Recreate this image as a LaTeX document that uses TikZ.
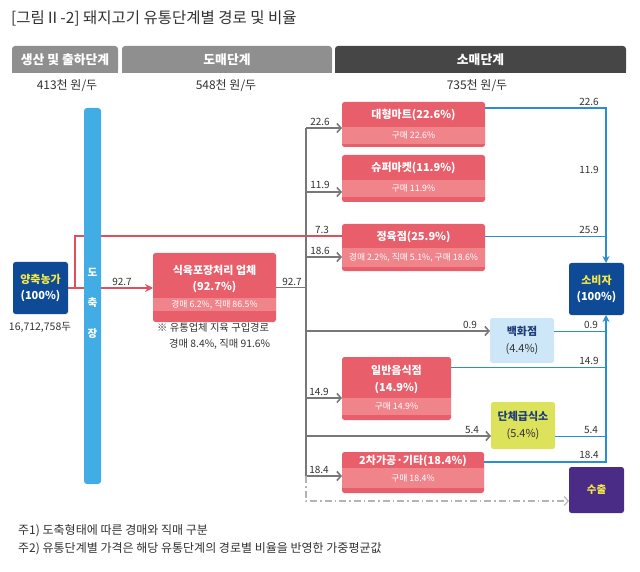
\documentclass[tikz,border=0pt]{standalone}
\usepackage{fontspec}
\setmainfont{Noto Sans CJK KR}
\usetikzlibrary{arrows.meta}
\definecolor{rmain}{RGB}{232,94,106}
\definecolor{rband}{RGB}{239,132,139}
\definecolor{hgray}{RGB}{143,143,143}
\definecolor{hdark}{RGB}{70,70,70}
\definecolor{dblue}{RGB}{14,74,150}
\definecolor{barblue}{RGB}{65,173,228}
\definecolor{lblue}{RGB}{42,143,208}
\definecolor{gline}{RGB}{120,120,120}
\definecolor{rline}{RGB}{224,80,92}
\definecolor{ytext}{RGB}{245,233,74}
\definecolor{paleblue}{RGB}{205,231,248}
\definecolor{ygreen}{RGB}{220,226,90}
\definecolor{navytext}{RGB}{30,60,120}
\definecolor{purp}{RGB}{74,44,134}
\definecolor{txt}{RGB}{50,50,50}
\definecolor{dashg}{RGB}{180,180,180}
\tikzset{
  box/.style={inner sep=0pt, outer sep=0pt, anchor=north west, rounded corners=2.5pt},
  redbox/.style={box, fill=rmain},
  band/.style={inner sep=0pt, outer sep=0pt, anchor=north west, fill=rband, text=white, font=\fontsize{8.8}{9}\selectfont},
  ttl/.style={text=white, font=\bfseries\fontsize{11}{16.5}\selectfont, align=center, inner sep=0pt},
  hdr/.style={inner sep=0pt, outer sep=0pt, anchor=north west, rounded corners=3pt, text=white, minimum height=27pt},
  hdrtxt/.style={text=white, font=\bfseries\fontsize{12.8}{14}\selectfont, inner sep=0pt},
  num/.style={font=\fontsize{10}{11}\selectfont, text=txt, inner sep=0pt},
  price/.style={font=\fontsize{12}{13}\selectfont, text=txt, inner sep=0pt},
  gl/.style={draw=gline, line width=1.6pt},
  garrow/.style={gl, -{Straight Barb[length=4pt,width=9pt,line width=1.6pt]}},
  rl/.style={draw=rline, line width=1.6pt},
  rarrow/.style={rl, -{Stealth[length=8pt,width=8pt]}},
  bthin/.style={draw=lblue, line width=0.9pt},
  bthick/.style={draw=lblue, line width=1.8pt},
  barrow/.style={bthick, -{Stealth[length=7pt,width=7pt]}},
  dashl/.style={draw=dashg, line width=1.1pt, dash pattern=on 7pt off 3pt on 1.5pt off 3pt, -{Straight Barb[length=4pt,width=9pt]}},
  foot/.style={anchor=west, inner sep=0pt, text=txt, font=\fontsize{12}{13}\selectfont},
  slab/.style={font=\bfseries\fontsize{11}{16.5}\selectfont, align=center, inner sep=0pt},
}
\begin{document}
\begin{tikzpicture}[x=1pt,y=-1pt]
\useasboundingbox (0,0) rectangle (640,572);
% title
\node[anchor=west, inner sep=0pt, text=txt, font=\fontsize{15.5}{17}\selectfont] (title) at (11,18) {[그림Ⅱ-2] 돼지고기 유통단계별 경로 및 비율};
% headers
\node[hdr, fill=hgray, minimum width=106pt] (h1) at (12,46) {};
\fill[hgray] (h1.west) rectangle (h1.south east);
\node[hdrtxt] at (h1.center) {생산 및 출하단계};
\node[hdr, fill=hgray, minimum width=210pt] (h2) at (122,46) {};
\fill[hgray] (h2.west) rectangle (h2.south east);
\node[hdrtxt] at (h2.center) {도매단계};
\node[hdr, fill=hdark, minimum width=291pt] (h3) at (335,46) {};
\fill[hdark] (h3.west) rectangle (h3.south east);
\node[hdrtxt] at (h3.center) {소매단계};
% prices
\node[price] (p1) at (67,86) {413천 원/두};
\node[price] (p2) at (226,86) {548천 원/두};
\node[price] (p3) at (477,86) {735천 원/두};

% farm
\node[box, fill=dblue, minimum width=55pt, minimum height=52pt] (farm) at (13,262) {};
\node[slab] at (farm.center) {\textcolor{ytext}{양축농가}\\\textcolor{white}{(100\%)}};
\node[font=\fontsize{10.5}{12}\selectfont, text=txt, inner sep=0pt] (cnt) at (40,327) {16,712,758두};

% packing plant
\node[redbox, minimum width=123pt, minimum height=69pt] (pack) at (153,253) {};
\node[band, minimum width=123pt, minimum height=13pt] (packb) at (153,298) {경매 6.2\%, 직매 86.5\%};
\node[ttl] at (214.5,279) {식육포장처리 업체\\(92.7\%)};
\node[font=\fontsize{10.3}{16}\selectfont, text=txt, align=left, inner sep=0pt, anchor=north west] (note) at (157,323) {※ 유통업체 지육 구입경로\\\hspace*{12pt}경매 8.4\%, 직매 91.6\%};

% retail boxes
\node[redbox, minimum width=143pt, minimum height=45pt] (mart) at (342,102) {};
\node[band, minimum width=143pt, minimum height=17pt] (martb) at (342,127) {구매 22.6\%};
\node[ttl] at (413.5,115) {대형마트(22.6\%)};

\node[redbox, minimum width=143pt, minimum height=47pt] (super) at (342,155) {};
\node[band, minimum width=143pt, minimum height=17pt] (superb) at (342,180) {구매 11.9\%};
\node[ttl] at (413.5,168) {슈퍼마켓(11.9\%)};

\node[redbox, minimum width=143pt, minimum height=47pt] (butch) at (342,224) {};
\node[band, minimum width=143pt, minimum height=19pt] (butchb) at (342,248) {경매 2.2\%, 직매 5.1\%, 구매 18.6\%};
\node[ttl] at (413.5,236.5) {정육점(25.9\%)};

\node[redbox, minimum width=109pt, minimum height=63pt] (rest) at (342,357) {};
\node[band, minimum width=109pt, minimum height=17pt] (restb) at (342,398) {구매 14.9\%};
\node[ttl] at (396.5,379.5) {일반음식점\\(14.9\%)};

\node[redbox, minimum width=142pt, minimum height=41pt] (proc2) at (342,452) {};
\node[band, minimum width=142pt, minimum height=20pt] (proc2b) at (342,468) {구매 18.4\%};
\node[ttl] at (413,460.5) {2차가공·기타(18.4\%)};

\node[box, fill=paleblue, minimum width=64pt, minimum height=45pt] (dept) at (490,318) {};
\node[slab] at (dept.center) {\textcolor{navytext}{백화점}\\\textcolor{txt}{\mdseries(4.4\%)}};

\node[box, fill=ygreen, minimum width=64pt, minimum height=47pt] (group) at (491,402) {};
\node[slab] at (group.center) {\textcolor{navytext}{단체급식소}\\\textcolor{txt}{\mdseries(5.4\%)}};

\node[box, fill=dblue, minimum width=55pt, minimum height=52pt] (cons) at (569,263) {};
\node[slab] at (cons.center) {\textcolor{ytext}{소비자}\\\textcolor{white}{(100\%)}};

\node[box, fill=purp, minimum width=55pt, minimum height=46pt] (exp) at (569,467) {};
\node[font=\bfseries\fontsize{10.5}{12}\selectfont, text=ytext, inner sep=0pt] at (exp.center) {수출};

% coordinates
\coordinate (vtop) at (306,128);
\coordinate (vbot) at (306,476);
\coordinate (bx) at (606,0);

% red connectors
\draw[rl] (farm.east) -- ++(7,0) |- (butch.west |- 0,236) coordinate (r73);
\draw[rarrow] (farm.east) -- (farm.east -| pack.west);
\node[num] at (122,282) {92.7};
\node[num] at (322,230) {7.3};

% slaughterhouse bar (over red lines)
\node[box, fill=barblue, minimum width=17pt, minimum height=376pt, rounded corners=3pt] (bar) at (84,108) {};
\node[text=white, font=\bfseries\fontsize{10.5}{12}\selectfont, inner sep=0pt] at (92.5,272) {도};
\node[text=white, font=\bfseries\fontsize{10.5}{12}\selectfont, inner sep=0pt] at (92.5,303) {축};
\node[text=white, font=\bfseries\fontsize{10.5}{12}\selectfont, inner sep=0pt] at (92.5,334) {장};

% gray connectors
\draw[gl] (pack.east) -- (pack.east -| vtop);
\node[num] at (292,282) {92.7};
\draw[gl] (vtop) -- (vbot);
\draw[garrow] (vtop) -- (vtop -| mart.west);
\draw[garrow] (306,192) -- (super.west |- 0,192);
\draw[garrow] (306,257) -- (butch.west |- 0,257);
\draw[garrow] (306,331) -- (dept.west |- 0,331);
\draw[garrow] (306,398) -- (rest.west |- 0,398);
\draw[garrow] (306,436) -- (group.west |- 0,436);
\draw[garrow] (vbot) -- (vbot -| proc2.west);
\draw[dashl] (vbot) -- (306,501) -- (exp.west |- 0,501);
\node[num] at (320,122) {22.6};
\node[num] at (320,185) {11.9};
\node[num] at (320,251) {18.6};
\node[num] at (470,325) {0.9};
\node[num] at (319,392) {14.9};
\node[num] at (472,430) {5.4};
\node[num] at (319,470) {18.4};

% blue connectors
\draw[barrow] (mart.east |- 0,108) -| (cons.north -| bx);
\draw[bthin] (butch.east |- 0,236) -- (bx |- 0,236);
\draw[bthin] (dept.east |- 0,331) -- (bx |- 0,331);
\draw[bthin] (rest.east |- 0,367) -- (bx |- 0,367);
\draw[bthin] (group.east |- 0,436) -- (bx |- 0,436);
\draw[barrow] (proc2.east |- 0,462) -| (cons.south -| bx);
\node[num] at (589,102) {22.6};
\node[num] at (589,170) {11.9};
\node[num] at (589,230) {25.9};
\node[num] at (591,325) {0.9};
\node[num] at (589,361) {14.9};
\node[num] at (591,430) {5.4};
\node[num] at (589,455) {18.4};

% footnotes
\node[foot] (fn1) at (18,531) {주1) 도축형태에 따른 경매와 직매 구분};
\node[foot] (fn2) at (18,549) {주2) 유통단계별 가격은 해당 유통단계의 경로별 비율을 반영한 가중평균값};
\end{tikzpicture}
\end{document}
